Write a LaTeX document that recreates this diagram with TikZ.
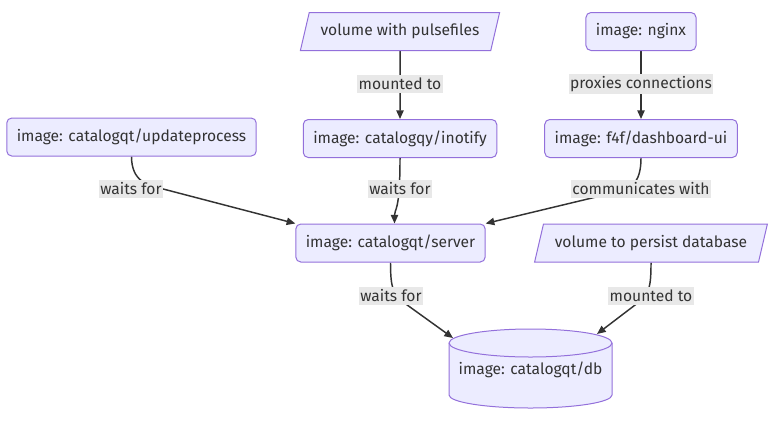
\documentclass[tikz,border=0pt]{standalone}
\usepackage{fontspec}
\setmainfont{Fira Sans}
\usetikzlibrary{positioning,shapes.geometric,arrows.meta,calc,backgrounds}

\definecolor{boxfill}{HTML}{ECECFF}
\definecolor{boxline}{HTML}{9370DB}
\definecolor{inkgray}{HTML}{333333}
\definecolor{lblfill}{HTML}{E8E8E8}

\tikzset{
	img/.style={draw=boxline, fill=boxfill, line width=.75pt, rounded corners=3.75pt,
		minimum height=28.5pt, inner xsep=7.5pt, text=inkgray},
	vol/.style={trapezium, trapezium left angle=70, trapezium right angle=110,
		trapezium stretches body=true,
		draw=boxline, fill=boxfill, line width=.75pt, minimum height=28.5pt,
		inner xsep=8.5pt, text=inkgray},
	lbl/.style={fill=lblfill, inner xsep=1pt, inner ysep=2pt, text=inkgray},
	edge/.style={draw=inkgray, line width=1.1pt, -{Triangle[length=6.5pt,width=5.5pt]}},
}

\begin{document}
\begin{tikzpicture}[x=.75pt,y=.75pt,font=\fontsize{11.7}{14}\selectfont]
	\useasboundingbox (0,0) rectangle (784,-422);
	
	% top row
	\node[vol] (pv) at (400,-31.5) {volume with pulsefiles};
	\node[img] (ngx) at (641,-31.5) {image: nginx};
	
	% middle row
	\node[img] (upd) at (131.5,-137) {image: catalogqt/updateprocess};
	\node[img,below=51pt of pv] (ino) {image: catalogqy/inotify};
	\node[img,below=51pt of ngx] (dash) {image: f4f/dashboard-ui};
	
	% server row
	\node[img] (srv) at (390.5,-243) {image: catalogqt/server};
	\node[vol] (pdb) at (651,-243) {volume to persist database};
	
	% database
	\draw[draw=boxline, fill=boxfill, line width=.75pt] (449,-343) -- (449,-395)
		arc[start angle=180, end angle=360, x radius=81.5, y radius=13] -- (612,-343)
		arc[start angle=0, end angle=180, x radius=81.5, y radius=14] -- cycle;
	\draw[boxline, line width=.75pt] (449,-343)
		arc[start angle=180, end angle=360, x radius=81.5, y radius=14];
	\node[text=inkgray] (db) at (530.5,-370) {image: catalogqt/db};
	\coordinate (dbl) at (453,-338);
	\coordinate (dbr) at (597,-334);
	
	% edge labels
	\node[lbl] (m1) at (400,-84) {mounted to};
	\node[lbl] (pc) at (641,-84) {proxies connections};
	\node[lbl] (w1) at (131,-189) {waits for};
	\node[lbl] (w2) at (400,-189) {waits for};
	\node[lbl] (cw) at (641,-189) {communicates with};
	\node[lbl] (w3) at (391,-296) {waits for};
	\node[lbl] (m2) at (651,-296) {mounted to};
	
	\begin{scope}[on background layer]
		\draw[edge] (pv) -- (ino);
		\draw[edge] (ngx) -- (dash);
		\draw[edge] (upd.south) .. controls +(0,-25) and +(-15,3) .. (w1.east) -- (srv.north west);
		\draw[edge] (ino.south) .. controls +(0,-55) and +(0,15) .. ($(srv.north)+(4,0)$);
		\draw[edge] (dash.south) .. controls +(0,-22) and +(12,3) .. ($(cw)+(-20,-2)$) -- (srv.north east);
		\draw[edge] (srv.south) .. controls +(0,-25) and +(-10,8) .. ($(w3)+(12,-6)$) -- (dbl);
		\draw[edge] (pdb.south) .. controls +(0,-25) and +(10,8) .. ($(m2)+(-12,-6)$) -- (dbr);
	\end{scope}
\end{tikzpicture}
\end{document}
